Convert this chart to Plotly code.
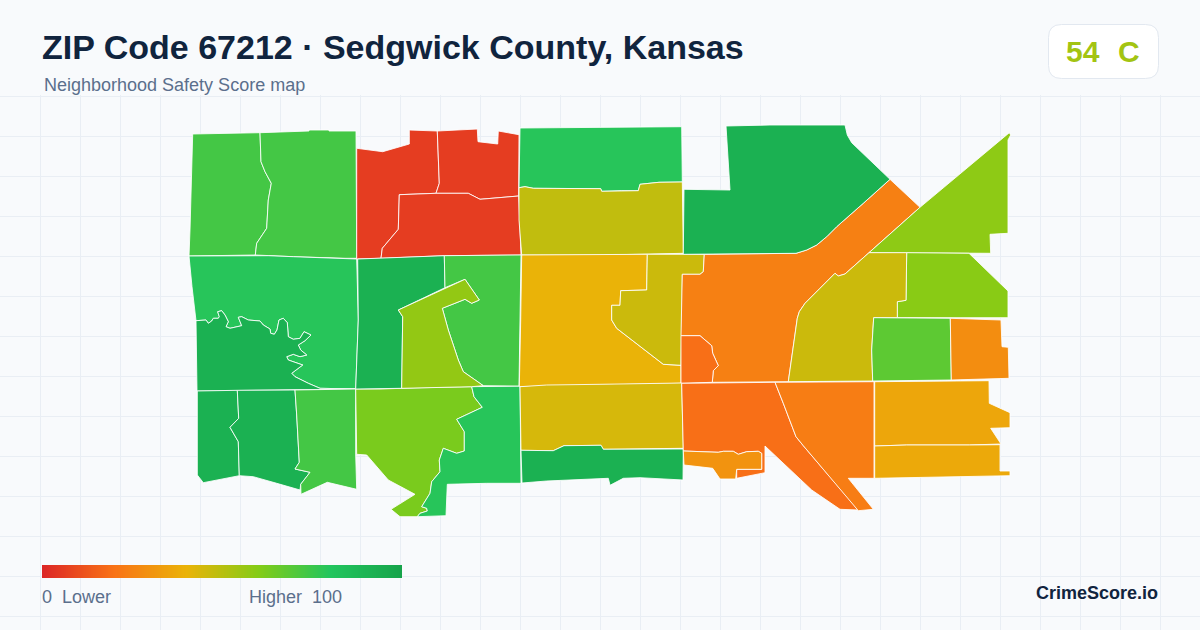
import plotly.graph_objects as go
from plotly.colors import sample_colorscale

title_text = "ZIP Code 67212 · Sedgwick County, Kansas"
subtitle_text = "Neighborhood Safety Score map"
overall_score = 54
overall_grade = "C"
legend_low = "0\u00a0\u00a0Lower"
legend_high = "Higher\u00a0\u00a0100"
brand_text = "CrimeScore.io"

score_stops = [0, 20, 40, 60, 80, 100]
stop_colors = ["#dc2626", "#f97316", "#eab308", "#84cc16", "#22c55e", "#16a34a"]
legend_values = list(range(0, 101))

# Block-group outlines, in the map's projected units
nw_west = [(192.7,134),(220,133.3),(260,132.7),(261,161.7),(265,171.7),(271.3,183.3),(268.3,200),(266.7,228.3),(256.7,243.3),(255.3,255),(222.7,255.7),(189,256),(190,230),(192,163.3)]
nw_east = [(260,132.7),(284,132),(309,131),(309,130),(329,130),(329,131),(356,131),(356.7,258.3),(345,258.3),(293.3,256.7),(268.3,255.7),(255.3,255),(256.7,243.3),(266.7,228.3),(268.3,200),(271.3,183.3),(265,171.7),(261,161.7)]
red_west = [(356.7,148.3),(382.7,151.7),(409.3,144),(409.3,130),(437.3,131),(439.3,183.3),(436,193.3),(399.3,194.7),(398.3,229.3),(382.3,248.3),(381,258.3),(356.7,259)]
red_north = [(437.3,131),(477.3,129),(478,141.7),(497.7,144),(498.3,131),(519,134.7),(518.7,196),(480,199.3),(468.3,193.3),(436,193.3),(439.3,183.3)]
red_south = [(399.3,194.7),(436,193.3),(468.3,193.3),(480,199.3),(518.7,196),(521,255),(444.3,255.7),(381,258.3),(382.3,248.3),(398.3,229.3)]
river = [(320,388.3),(308.3,383.3),(295,376.7),(291.7,373.3),(302.7,365),(288.3,360),(286.7,356.7),(293.3,354.3),(300,356.7),(306.7,355),(300.7,350),(298.3,345),(305,340.7),(311,335),(304,331.7),(301.7,335),(300,338.3),(293.3,339.3),(288.3,336.7),(287.3,322.7),(283.3,318.3),(279,320),(277,330),(274.3,334.3),(270.7,333.3),(270,329),(263.3,325),(260,321),(248.3,320),(241.7,316.7),(238.3,317.3),(241.7,325.7),(230,328.3),(226,326.7),(228.3,321.7),(225,315),(221.7,310.7),(217.7,311.7),(219.3,316.7),(218.3,318.3),(213.3,318.3),(211.7,321),(208.3,323.3),(206,320),(200.7,320),(196,320.7)]
north_of_river = [(189,256),(222.7,255.7),(268.3,255.7),(293.3,256.7),(345,258.3),(356.7,259),(358.3,320),(355.7,389)] + river + [(192,286.7)]
south_of_river = river + [(197,391),(295,390),(355.7,389)]
sw_a = [(197.3,391),(237.3,390.3),(238.7,418.3),(230,427.3),(238.3,441.7),(239.3,475.7),(203.3,482.7),(197.3,475)]
sw_b = [(237.3,390.3),(295,390),(296.7,415),(299.3,462.3),(295,469),(310,472.3),(300.7,484.3),(300,490),(276.7,483.3),(253.3,476.7),(239.3,475.7),(238.3,441.7),(230,427.3),(238.7,418.3)]
sw_c = [(295,390),(355.7,389),(355.7,455),(356.7,489.3),(327.3,482.3),(301,494.3),(300.7,484.3),(310,472.3),(295,469),(299.3,462.3),(296.7,415)]
south_lime = [(355.7,389),(380,389),(421.7,387.7),(471.7,386.7),(474,396.7),(482.3,407.3),(456.7,419.3),(464.3,431.7),(464.3,451),(456.7,453.3),(443.3,448.3),(439.3,460),(440,471.7),(431.7,481.7),(430,493.3),(421.7,506.7),(426.7,508.3),(427.3,511),(420,513.3),(417.3,516.7),(400,516.7),(391,509.3),(415,494.3),(388.3,480),(366.7,455),(356.7,454.3)]
south_green = [(471.7,386.7),(520,386),(521,483.3),(486.7,483.3),(447.3,484.3),(446,515.7),(417.3,516.7),(420,513.3),(427.3,511),(426.7,508.3),(421.7,506.7),(430,493.3),(431.7,481.7),(440,471.7),(439.3,460),(443.3,448.3),(456.7,453.3),(464.3,451),(464.3,431.7),(456.7,419.3),(482.3,407.3),(474,396.7)]
mid_dark = [(357.7,259),(381,258.3),(444.3,255.7),(445,287.7),(398.3,310),(402.7,316.7),(401.7,388.3),(355.7,389),(358.3,320)]
mid_green = [(444.3,255.7),(521,255),(520,320),(519,386),(483.3,385.7),(463.3,371.7),(458.3,360),(448.3,330),(442.3,308.3),(465,299.3),(471.7,303.3),(479.3,300),(465,279.3),(445,287.7)]
mid_lime = [(465,279.3),(479.3,300),(471.7,303.3),(465,299.3),(442.3,308.3),(448.3,330),(458.3,360),(463.3,371.7),(483.3,385.7),(471.7,386.7),(401.7,388.3),(402.7,316.7),(398.3,310)]
north_green = [(520,128),(600,127.3),(681.7,126.7),(682.3,182),(659,182.3),(640,184.3),(638.3,190.7),(621.7,190.7),(601.7,191.3),(600.7,188.7),(533.3,188.3),(525,186.7),(519,187.7)]
north_olive = [(519,187.7),(525,186.7),(533.3,188.3),(600.7,188.7),(601.7,191.3),(621.7,190.7),(638.3,190.7),(640,184.3),(659,182.3),(682.3,182),(683.3,253.3),(603.3,255),(521.7,255),(519,220)]
center_yellow = [(521.7,255),(647.3,254.3),(646.7,290),(620.7,290.7),(620,305.3),(611.7,305.3),(611.7,320),(616.7,328.3),(663.3,364.3),(681,365.3),(681,383.3),(600,385),(546.7,386.7),(519.3,386.7),(520.7,320)]
center_olive = [(647.3,254.3),(704.3,254.3),(703.3,271.7),(700,274.3),(682.3,274.3),(681,365.3),(663.3,364.3),(616.7,328.3),(611.7,320),(611.7,305.3),(620,305.3),(620.7,290.7),(646.7,290)]
small_orange = [(681,335.7),(700,335.7),(711.7,345.7),(712.7,353.3),(718.3,365.7),(713.3,370.7),(712.3,382.3),(681,383.3)]
big_orange = [(704.3,254.3),(770,253.3),(796,253.3),(806.7,250),(816.7,245),(826.7,236.7),(836.7,226.7),(863.3,203.3),(890,179.3),(920,207.3),(870,251.7),(845,274),(838.3,276),(835,273.3),(820,288.3),(805,303.3),(799.3,311.7),(797.3,318.3),(788.3,381.7),(712.3,382.3),(713.3,370.7),(718.3,365.7),(712.7,353.3),(711.7,345.7),(700,335.7),(681,335.7),(682.3,274.3),(700,274.3),(703.3,271.7)]
ne_dark = [(726,126),(770,125),(845,125),(847.3,135),(851.7,142.7),(890,179.3),(863.3,203.3),(836.7,226.7),(826.7,236.7),(816.7,245),(806.7,250),(796,253.3),(683.3,254.3),(684,189.3),(730,190)]
ne_wedge = [(920,207.3),(1009.3,132.7),(1010.7,135),(1008,140),(1008,233.3),(990,234.3),(990.7,253.3),(970,253.3),(906.7,252.7),(869,252.7)]
east_lime = [(906.7,252.7),(969,253.3),(1008,291),(1008,317.7),(897.3,317.7),(897.3,301.7),(906,300.3)]
east_olive = [(869,252.7),(906.7,252.7),(906,300.3),(897.3,301.7),(897.3,317.7),(873.7,317.7),(871.7,350),(872.7,381),(788.3,381.7),(797.3,318.3),(799.3,311.7),(805,303.3),(820,288.3),(835,273.3),(838.3,276),(845,274)]
east_green = [(873.7,317.7),(950.3,318.3),(951.3,380),(872.7,381),(871.7,350)]
east_orange = [(950.3,318.3),(1001,320),(1002,346.7),(1008.3,347.3),(1009,378.3),(951.3,380)]
south_mustard = [(520,386.7),(546.7,385),(600,384.3),(681.7,383),(683.3,448.3),(645,449),(603.3,449.3),(601,445.3),(564,445.7),(553.3,450.7),(521,450.3)]
south_dark = [(521,450.3),(553.3,450.7),(564,445.7),(601,445.3),(603.3,449.3),(645,449),(683.3,449),(683,480),(670,479.3),(640,477.7),(623.3,478.3),(610,485.3),(608.3,478.3),(581.7,479.3),(546.7,481),(522,483)]
se_red_orange = [(681.7,383.3),(775,382.3),(783.3,403.3),(796,436.7),(803.3,445.7),(858.3,510),(840,509.3),(811.7,490),(765,446),(765,472.7),(736.7,478.3),(736.7,469.3),(761.7,469.3),(761.7,453.3),(758.3,451.3),(746.7,451.7),(738.3,454.3),(733.3,451.3),(723.3,451.3),(718.3,452.3),(683.3,451)]
se_notch = [(683.3,451),(718.3,452.3),(723.3,451.3),(733.3,451.3),(738.3,454.3),(746.7,451.7),(758.3,451.3),(761.7,453.3),(761.7,469.3),(736.7,469.3),(735.7,479),(720,479),(712.7,468.3),(684,465)]
se_orange = [(775,382.3),(874,381.7),(874,478.3),(848.3,478.3),(873.3,509.3),(858.3,510.7),(803.3,445.7),(796,436.7),(783.3,403.3)]
se_amber = [(874.7,381.7),(989,380.7),(989.3,403.3),(1010,412.7),(1010,427.7),(990.7,428.3),(1001,444),(969.3,445),(906.7,445),(874.7,446)]
se_gold = [(874.7,446),(906.7,445),(969.3,445),(1000,444.7),(1000,471),(1010,471),(1010,475.7),(938.3,477.3),(874.7,478.3)]

region_rings = [nw_west, nw_east, red_west, red_north, red_south, north_of_river, south_of_river,
                sw_a, sw_b, sw_c, south_lime, south_green, mid_dark, mid_green, mid_lime,
                north_green, north_olive, center_yellow, center_olive, big_orange, small_orange,
                ne_dark, ne_wedge, east_lime, east_olive, east_green, east_orange,
                south_mustard, south_dark, se_red_orange, se_notch, se_orange, se_amber, se_gold]
region_scores = [73, 73, 6, 6, 6, 79, 92,
                 92, 92, 73, 62, 79, 92, 73, 57,
                 79, 48, 40, 46, 24, 19,
                 92, 58, 59, 46, 68, 28,
                 44, 92, 19, 30, 23, 36, 37]

colorscale = [[s / 100, c] for s, c in zip(score_stops, stop_colors)]

def score_color(score):
    return sample_colorscale(colorscale, [score / 100])[0]

W, H = 1200, 630
HEADER = 95
def px(x):
    return x / W
def py(y):
    return 1 - y / H

fig = go.Figure()
for ring, score in zip(region_rings, region_scores):
    closed = ring + [ring[0]]
    fig.add_trace(go.Scatter(
        x=[p[0] for p in closed], y=[p[1] for p in closed],
        mode="lines", fill="toself", fillcolor=score_color(score),
        line=dict(color="#ffffff", width=0.85), hoverinfo="skip", showlegend=False,
    ))

fig.add_trace(go.Heatmap(
    x=legend_values, y=[0, 1], z=[legend_values, legend_values],
    colorscale=colorscale, zmin=0, zmax=100, showscale=False, zsmooth="best",
    xaxis="x2", yaxis="y2", hoverinfo="skip",
))

def rounded_box(x0, y0, x1, y1, r):
    p = lambda x, y: f"{px(x):.5f},{py(y):.5f}"
    return (f"M{p(x0+r,y0)} L{p(x1-r,y0)} Q{p(x1,y0)} {p(x1,y0+r)} L{p(x1,y1-r)} Q{p(x1,y1)} {p(x1-r,y1)} "
            f"L{p(x0+r,y1)} Q{p(x0,y1)} {p(x0,y1-r)} L{p(x0,y0+r)} Q{p(x0,y0)} {p(x0+r,y0)} Z")

FONT = "Liberation Sans, Arial, sans-serif"
NAVY = "#10243e"
SLATE = "#5b6f8c"

def note(text, x, y, size, color, anchor="left", bold=False):
    return dict(text=text, x=px(x), y=py(y), xref="paper", yref="paper", xanchor=anchor, yanchor="middle",
                showarrow=False, borderpad=0, borderwidth=0,
                font=dict(family=FONT, size=size, color=color, weight=700 if bold else 400))

fig.update_layout(
    width=W, height=H, margin=dict(l=0, r=0, t=0, b=0),
    paper_bgcolor="#f8fafc", plot_bgcolor="#f8fafc", showlegend=False,
    xaxis=dict(range=[0, W], domain=[0, 1], tick0=0.5, dtick=40, showgrid=True, gridcolor="#e9eef4", gridwidth=1,
               zeroline=False, showline=False, showticklabels=False, ticks="", fixedrange=True),
    yaxis=dict(range=[H, HEADER], domain=[0, 1 - HEADER / H], tick0=96.5, dtick=40, showgrid=True,
               gridcolor="#e9eef4", gridwidth=1, zeroline=False, showline=False, showticklabels=False, ticks="",
               fixedrange=True),
    xaxis2=dict(range=[0, 100], domain=[px(42), px(402)], visible=False, anchor="y2", fixedrange=True),
    yaxis2=dict(range=[0, 1], domain=[py(578), py(565)], visible=False, anchor="x2", fixedrange=True),
    shapes=[dict(type="path", path=rounded_box(1048.5, 24.5, 1158.5, 78.5, 13), xref="paper", yref="paper",
                 fillcolor="#ffffff", line=dict(color="#e2e8f0", width=1), layer="above")],
    annotations=[
        note(title_text, 42, 47.5, 34, NAVY, bold=True),
        note(subtitle_text, 44, 85, 18, SLATE),
        note(str(overall_score), 1065.5, 51, 30, score_color(overall_score), bold=True),
        note(overall_grade, 1118, 51, 30, score_color(overall_score), bold=True),
        note(legend_low, 42, 597, 18, SLATE),
        note(legend_high, 341.5, 597, 18, SLATE, anchor="right"),
        note(brand_text, 1158, 592.5, 18, NAVY, anchor="right", bold=True),
    ],
)

fig.write_html("out.html", config=dict(displayModeBar=False, responsive=False),
               post_script="document.body.style.margin='0';document.body.style.background='#f8fafc';document.body.style.overflow='hidden';")
